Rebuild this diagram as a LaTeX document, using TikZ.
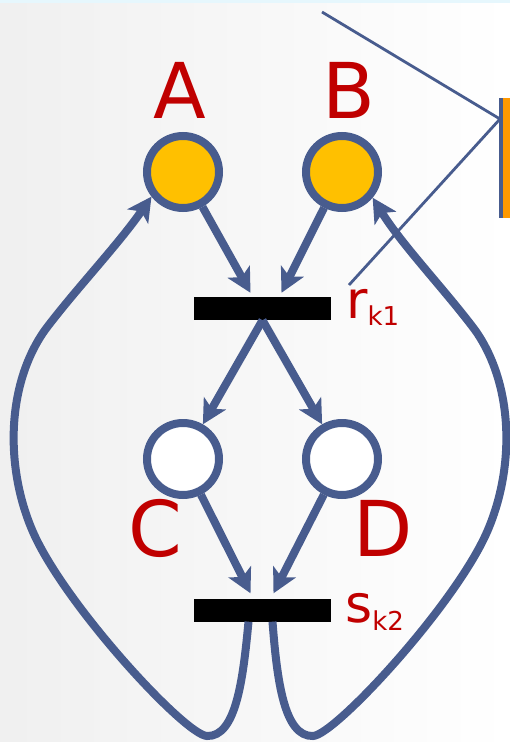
\documentclass[tikz,border=0pt]{standalone}
\usepackage{fontspec}
\setmainfont{DejaVu Sans}
\usetikzlibrary{arrows.meta}
\definecolor{edgeblue}{RGB}{72,92,142}
\definecolor{labred}{RGB}{192,0,0}
\definecolor{tokenfill}{RGB}{255,192,0}
\definecolor{barorange}{RGB}{255,153,0}
\begin{document}
\begin{tikzpicture}[x=1pt,y=-1pt,
  place/.style={circle, draw=edgeblue, line width=8pt, minimum size=72pt, inner sep=0pt},
  trans/.style={rectangle, fill=black, minimum width=137pt, minimum height=23pt, inner sep=0pt},
  arr/.style={draw=edgeblue, line width=8pt, -{Stealth[length=24pt,width=25pt,inset=6pt]}},
  thinline/.style={draw=edgeblue, line width=2.8pt},
  biglbl/.style={text=labred, font=\fontsize{77}{77}\selectfont, inner sep=0pt, anchor=base},
  smalllbl/.style={text=labred, font=\fontsize{52}{52}\selectfont, inner sep=0pt, anchor=base west}]
\useasboundingbox (0,0) rectangle (510,742);
\shade[left color=black!6, right color=white] (0,0) rectangle (510,742);
\fill[cyan!10] (0,0) rectangle (510,3);

% places
\node[place, fill=tokenfill] (A) at (183,172) {};
\node[place, fill=tokenfill] (B) at (342,172) {};
\node[place, fill=white] (C) at (183,459) {};
\node[place, fill=white] (D) at (342,459) {};
% transitions
\node[trans] (r) at (262.5,308.5) {};
\node[trans] (s) at (262.5,610) {};

% labels
\node[biglbl] (la) at (180,118) {A};
\node[biglbl] (lb) at (349,118) {B};
\node[biglbl] (lc) at (155,556) {C};
\node[biglbl] (ld) at (383,556) {D};
\node[smalllbl] (lr) at (346,318) {r\raisebox{-7pt}{\fontsize{26}{26}\selectfont k1}};
\node[smalllbl] (ls) at (345,622) {s\raisebox{-8pt}{\fontsize{26}{26}\selectfont k2}};

% arcs
\draw[arr] (A) -- ([xshift=-12pt,yshift=4pt]r.north);
\draw[arr] (B) -- ([xshift=19pt,yshift=4pt]r.north);
\draw[arr] (r.south) -- (C);
\draw[arr] (r.south) -- (D);
\draw[arr] (C) -- ([xshift=-12pt,yshift=5pt]s.north);
\draw[arr] (D) -- ([xshift=11pt,yshift=5pt]s.north);

% return loops
\draw[arr] ([xshift=-14pt]s.south) .. controls (243,680) and (236,737) .. (207,736)
  .. controls (185,735) and (65,605) .. (33,532)
  .. controls (5,468) and (6,385) .. (45,330)
  .. controls (75,290) and (118,245) .. (A.218);
\draw[arr] ([xshift=10pt]s.south) .. controls (277,680) and (284,737) .. (313,736)
  .. controls (335,735) and (455,605) .. (487,532)
  .. controls (515,468) and (514,385) .. (475,330)
  .. controls (445,290) and (402,245) .. (B.-40);

% orange bar and pointer lines
\node[fill=barorange, minimum width=9pt, minimum height=120pt, inner sep=0pt, anchor=north west] (bar) at (501,98) {};
\draw[edgeblue, line width=3.5pt] (bar.north west) -- (bar.south west);
\coordinate (j) at (500,119);
\coordinate (p1) at (322,12);
\coordinate (p2) at (349,285);
\draw[thinline] (p1) -- (j) -- (p2);
\end{tikzpicture}
\end{document}
